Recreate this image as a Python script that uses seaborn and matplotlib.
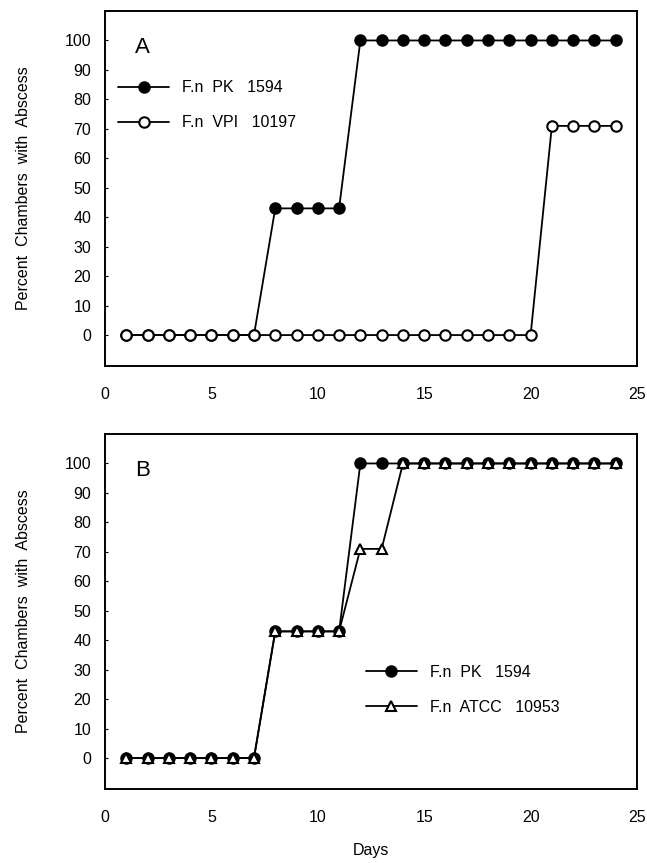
import matplotlib.pyplot as plt
import pandas as pd
import seaborn as sns
from matplotlib.lines import Line2D

sns.set_style("white")
plt.rcParams["font.family"] = ["Liberation Sans", "DejaVu Sans"]
plt.rcParams.update({
    "font.size": 11.5,
    "text.color": "black",
    "axes.labelcolor": "black",
    "xtick.color": "black",
    "ytick.color": "black",
})

# Data
days = list(range(1, 25))
pk_1594 = [0] * 7 + [43] * 4 + [100] * 13
vpi_10197 = [0] * 20 + [71] * 4
atcc_10953 = [0] * 7 + [43] * 4 + [71] * 2 + [100] * 11

x_ticks = [0, 5, 10, 15, 20, 25]
y_ticks = [0, 10, 20, 30, 40, 50, 60, 70, 80, 90, 100]

W, H = 647, 863
fig = plt.figure(figsize=(W / 100, H / 100), dpi=100)
ax_a = fig.add_axes([105 / W, 1 - 366 / H, 532 / W, 355 / H])
ax_b = fig.add_axes([105 / W, 1 - 789 / H, 532 / W, 355 / H])

line_kw = dict(color="black", linewidth=1.3, markersize=7.5, markeredgewidth=1.5,
               markeredgecolor="black")


def draw_series(ax, y, marker, face, label):
    df = pd.DataFrame({"Day": days, "Percent": y})
    sns.lineplot(data=df, x="Day", y="Percent", ax=ax, marker=marker,
                 markerfacecolor=face, label=label, **line_kw)


def style_axes(ax, letter):
    ax.set_xlim(0, 25)
    ax.set_ylim(-10.5, 110)
    ax.set_xticks(x_ticks)
    ax.set_yticks(y_ticks)
    ax.tick_params(axis="x", length=0, pad=15, labelsize=11.5)
    ax.tick_params(axis="y", length=2.5, direction="in", pad=10, labelsize=11.5, left=True)
    for s in ax.spines.values():
        s.set_color("black")
        s.set_linewidth(1.4)
    ax.set_xlabel("")
    ax.set_ylabel("Percent  Chambers  with  Abscess", fontsize=11.5, labelpad=24)
    ax.text(1.4, 97.5, letter, fontsize=16, va="center", ha="left")


# Panel A
draw_series(ax_a, pk_1594, "o", "black", "F.n  PK   1594")
draw_series(ax_a, vpi_10197, "o", "white", "F.n  VPI   10197")
style_axes(ax_a, "A")
handles_a = [
    Line2D([], [], marker="o", markerfacecolor="black", **line_kw),
    Line2D([], [], marker="o", markerfacecolor="white", **line_kw),
]
ax_a.legend(handles_a, ["F.n  PK   1594", "F.n  VPI   10197"], loc="upper left",
            bbox_to_anchor=(-0.002, 0.845), frameon=False, handlelength=3.2,
            labelspacing=1.25, fontsize=11.5, handletextpad=0.8)

# Panel B
draw_series(ax_b, pk_1594, "o", "black", "F.n  PK   1594")
draw_series(ax_b, atcc_10953, "^", "white", "F.n  ATCC   10953")
style_axes(ax_b, "B")
ax_b.set_xlabel("Days", fontsize=11.5, labelpad=13)
handles_b = [
    Line2D([], [], marker="o", markerfacecolor="black", **line_kw),
    Line2D([], [], marker="^", markerfacecolor="white", **line_kw),
]
ax_b.legend(handles_b, ["F.n  PK   1594", "F.n  ATCC   10953"], loc="upper left",
            bbox_to_anchor=(0.463, 0.39), frameon=False, handlelength=3.2,
            labelspacing=1.25, fontsize=11.5, handletextpad=0.8)

fig.savefig("out.png", dpi=100)
plt.close(fig)
